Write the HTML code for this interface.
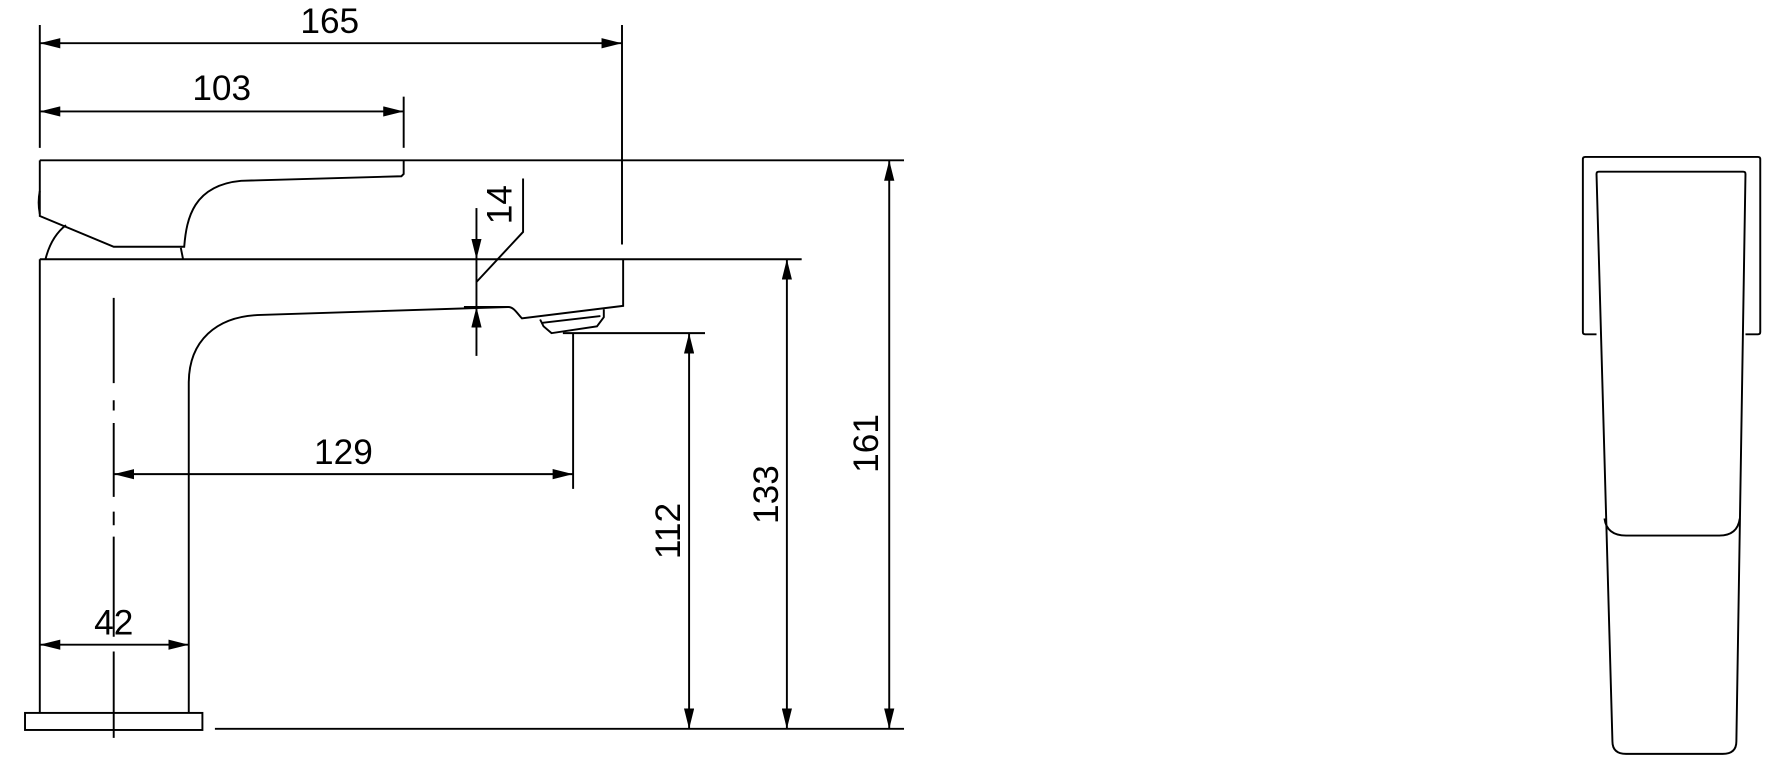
<!DOCTYPE html>
<html><head><meta charset="utf-8"><style>
html,body{margin:0;padding:0;background:#fff;}
svg{display:block;}
text{font-family:"Liberation Sans",sans-serif;font-size:31px;fill:#000;}
</style></head><body>
<svg width="1783" height="780" viewBox="0 0 1568 686" preserveAspectRatio="none" xmlns="http://www.w3.org/2000/svg">
<defs>
<marker id="a" viewBox="0 0 20 10" refX="20" refY="5" markerWidth="18" markerHeight="9" markerUnits="userSpaceOnUse" orient="auto-start-reverse">
<path d="M0,0 L20,5 L0,10 z" fill="#000"/>
</marker>
</defs>
<g fill="none" stroke="#000" stroke-width="1.7">
<line x1="35" y1="22" x2="35" y2="130"/>
<line x1="547" y1="22" x2="547" y2="215"/>
<line x1="35" y1="38" x2="547" y2="38" marker-start="url(#a)" marker-end="url(#a)"/>
<line x1="355" y1="85" x2="355" y2="130"/>
<line x1="35" y1="98" x2="355" y2="98" marker-start="url(#a)" marker-end="url(#a)"/>
<line x1="35" y1="141" x2="795" y2="141"/>
<path d="M35,141 L35,190 L100,217 L162,217 C164,192 170,163 212,159 L353,155 L355,153 L355,141"/>
<path d="M35,168 Q33,178 35,188"/>
<path d="M40,228 Q45,208 58,198"/>
<line x1="159" y1="218" x2="161" y2="228"/>
<line x1="35" y1="228" x2="705" y2="228"/>
<line x1="35" y1="228" x2="35" y2="627"/>
<rect x="22" y="627" width="156" height="15"/>
<path d="M166,627 L166,337 C166,300 190,278 229,277 L447,270 C452,270 455,276 459,280 L548,269 L548,228"/>
<path d="M475,281 L478,287 L485,293 L525,287 L531,279 L531,272"/>
<line x1="476" y1="284" x2="528" y2="278"/>
<line x1="408" y1="270" x2="447" y2="270"/>
<path d="M100,262 V337 M100,352 V361 M100,372 V437 M100,450 V462 M100,472 V560 M100,573 V649"/>
<line x1="419" y1="183" x2="419" y2="228" marker-end="url(#a)"/>
<line x1="419" y1="313" x2="419" y2="270" marker-end="url(#a)"/>
<line x1="419" y1="228" x2="419" y2="270"/>
<path d="M419,248 L460,204 L460,157"/>
<line x1="504" y1="293" x2="504" y2="430"/>
<line x1="100" y1="417" x2="504" y2="417" marker-start="url(#a)" marker-end="url(#a)"/>
<line x1="35" y1="567" x2="166" y2="567" marker-start="url(#a)" marker-end="url(#a)"/>
<line x1="495" y1="293" x2="620" y2="293"/>
<line x1="606" y1="293" x2="606" y2="641" marker-start="url(#a)" marker-end="url(#a)"/>
<line x1="692" y1="228" x2="692" y2="641" marker-start="url(#a)" marker-end="url(#a)"/>
<line x1="782" y1="141" x2="782" y2="641" marker-start="url(#a)" marker-end="url(#a)"/>
<line x1="189" y1="641" x2="795" y2="641"/>
<path d="M1404,294 L1394,294 Q1392,294 1392,292 L1392,140 Q1392,138 1394,138 L1546,138 Q1548,138 1548,140 L1548,292 Q1548,294 1546,294 L1535,294"/>
<path d="M1404,153 Q1404,151 1406,151 L1533,151 Q1535,151 1535,153 L1527,652 Q1527,663 1515,663 L1430,663 Q1418,663 1418,652 Z"/>
<path d="M1411,456 Q1413,471 1430,471 L1512,471 Q1528,471 1530,456"/>
</g>
<text x="290" y="29" text-anchor="middle">165</text>
<text x="195" y="88" text-anchor="middle">103</text>
<text x="302" y="408" text-anchor="middle">129</text>
<text x="100" y="558" text-anchor="middle">42</text>
<text transform="translate(450,180) rotate(-90)" text-anchor="middle">14</text>
<text transform="translate(598,467) rotate(-90)" text-anchor="middle">112</text>
<text transform="translate(684,435) rotate(-90)" text-anchor="middle">133</text>
<text transform="translate(772,390) rotate(-90)" text-anchor="middle">161</text>
</svg>
</body></html>
